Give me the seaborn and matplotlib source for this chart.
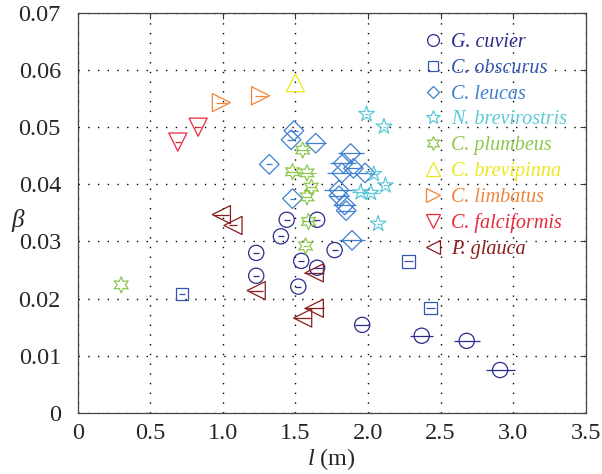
import numpy as np
import pandas as pd
import matplotlib
matplotlib.use("Agg")
import matplotlib.pyplot as plt
from matplotlib.lines import Line2D
import seaborn as sns

species = ["G. cuvier", "C. obscurus", "C. leucas", "N. brevirostris", "C. plumbeus",
           "C. brevipinna", "C. limbatus", "C. falciformis", "P. glauca"]
colors = ["#2b2b8c", "#3556b0", "#3f7fd0", "#5cc8d8", "#8cc84b",
          "#ece81a", "#f0843a", "#e8283c", "#8a1c1c"]
markers = ["o", "s", "D", "*", (6, 1, 0), "^", ">", "v", "<"]

# length l (m), beta, half-width of horizontal error bar
cuvier_l = [1.23, 1.23, 1.40, 1.44, 1.65, 1.54, 1.65, 1.52, 1.77, 1.96, 2.37, 2.68, 2.91]
cuvier_b = [0.0280, 0.0240, 0.0309, 0.0338, 0.0338, 0.0266, 0.0254, 0.0221, 0.0285, 0.0154, 0.0135, 0.0126, 0.0075]
cuvier_e = [0.02, 0.02, 0.02, 0.02, 0.02, 0.02, 0.03, 0.02, 0.02, 0.05, 0.08, 0.09, 0.10]

obscurus_l = [0.72, 2.28, 2.43]
obscurus_b = [0.0208, 0.0265, 0.0184]
obscurus_e = [0.02, 0.03, 0.03]

leucas_l = [1.49, 1.47, 1.64, 1.32, 1.48, 1.88, 1.83, 1.90, 1.82, 1.98, 1.80, 1.80, 1.84, 1.85, 1.89]
leucas_b = [0.0494, 0.0478, 0.0472, 0.0435, 0.0375, 0.0454, 0.0437, 0.0428, 0.0420, 0.0420,
            0.0390, 0.0380, 0.0364, 0.0354, 0.0302]
leucas_e = [0.03, 0.03, 0.07, 0.02, 0.02, 0.09, 0.09, 0.05, 0.10, 0.05, 0.10, 0.07, 0.08, 0.06, 0.09]

brevirostris_l = [1.99, 2.11, 2.04, 2.12, 1.95, 2.02, 2.07]
brevirostris_b = [0.0523, 0.0501, 0.0418, 0.0398, 0.0386, 0.0385, 0.0331]
brevirostris_e = [0.01, 0.01, 0.03, 0.02, 0.06, 0.06, 0.01]

plumbeus_l = [1.55, 1.48, 1.58, 1.61, 1.58, 1.59, 1.57, 0.30]
plumbeus_b = [0.0460, 0.0422, 0.0420, 0.0395, 0.0378, 0.0335, 0.0292, 0.0224]
plumbeus_e = [0.05, 0.05, 0.06, 0.03, 0.03, 0.05, 0.02, 0.0]

brevipinna_l = [1.50]
brevipinna_b = [0.0578]
brevipinna_e = [0.0]

limbatus_l = [0.99, 1.26]
limbatus_b = [0.0543, 0.0555]
limbatus_e = [0.04, 0.04]

falciformis_l = [0.69, 0.83]
falciformis_b = [0.0474, 0.0500]
falciformis_e = [0.02, 0.02]

glauca_l = [0.99, 1.07, 1.23, 1.63, 1.63, 1.55]
glauca_b = [0.0347, 0.0328, 0.0214, 0.0245, 0.0183, 0.0166]
glauca_e = [0.05, 0.03, 0.05, 0.07, 0.07, 0.06]

all_l = [cuvier_l, obscurus_l, leucas_l, brevirostris_l, plumbeus_l, brevipinna_l, limbatus_l, falciformis_l, glauca_l]
all_b = [cuvier_b, obscurus_b, leucas_b, brevirostris_b, plumbeus_b, brevipinna_b, limbatus_b, falciformis_b, glauca_b]
all_e = [cuvier_e, obscurus_e, leucas_e, brevirostris_e, plumbeus_e, brevipinna_e, limbatus_e, falciformis_e, glauca_e]

xticks = [0, 0.5, 1.0, 1.5, 2.0, 2.5, 3.0, 3.5]
xticklabels = ["0", "0.5", "1.0", "1.5", "2.0", "2.5", "3.0", "3.5"]
yticks = [0, 0.01, 0.02, 0.03, 0.04, 0.05, 0.06, 0.07]
yticklabels = ["0", "0.01", "0.02", "0.03", "0.04", "0.05", "0.06", "0.07"]

sns.set_style("white")
plt.rcParams["font.family"] = ["Liberation Serif", "DejaVu Serif"]
plt.rcParams["mathtext.fontset"] = "custom"
plt.rcParams["mathtext.rm"] = "Liberation Serif"
plt.rcParams["mathtext.it"] = "Liberation Serif:italic"

scatter_size = {"o": 120, "s": 80, "D": 100, "*": 140, "hex": 135, "^": 170, ">": 170, "v": 170, "<": 170}
legend_size = {"o": 8.5, "s": 7.5, "D": 6.5, "*": 10.5, "hex": 10, "^": 10, ">": 10, "v": 10, "<": 10}

def key(m):
    return "hex" if isinstance(m, tuple) else m

fig = plt.figure(figsize=(6.02, 4.74), dpi=100)
ax = fig.add_axes([0.129, 0.129, 0.844, 0.8437])

for sp, c, m, L, B, E in zip(species, colors, markers, all_l, all_b, all_e):
    df = pd.DataFrame({"l": L, "beta": B, "err": E})
    ax.errorbar(df["l"], df["beta"], xerr=df["err"], fmt="none", ecolor=c,
                elinewidth=0.9, capsize=0, zorder=2)
    sns.scatterplot(data=df, x="l", y="beta", marker=m, s=scatter_size[key(m)], facecolor="none",
                    edgecolor=c, linewidth=0.9, ax=ax, legend=False, zorder=3)

ax.set_xlim(0, 3.5)
ax.set_ylim(0, 0.07)
ax.set_xticks(xticks)
ax.set_xticklabels(xticklabels)
ax.set_yticks(yticks)
ax.set_yticklabels(yticklabels)
ax.tick_params(direction="in", top=True, right=True, labelsize=17.5, length=4,
               width=0.8, color="#333333")
ax.tick_params(axis="x", pad=7)
ax.tick_params(axis="y", pad=12)
for sp_ in ax.spines.values():
    sp_.set_color("#444444")
    sp_.set_linewidth(0.9)
ax.grid(True, color="black", linestyle=(0, (1, 6)), linewidth=1.0)
ax.set_axisbelow(True)

ax.set_xlabel(r"$l$ (m)", fontsize=17.5, labelpad=2)
ax.set_ylabel("β", fontsize=18, style="italic", rotation=0, va="center", ha="center")
ax.yaxis.set_label_coords(-0.118, 0.48)

handles = []
for sp, c, m in zip(species, colors, markers):
    handles.append(Line2D([], [], linestyle="none", marker=m, markersize=legend_size[key(m)],
                          markerfacecolor="none", markeredgecolor=c, markeredgewidth=0.9))
leg = ax.legend(handles, species, loc="upper left", bbox_to_anchor=(0.655, 0.985),
                frameon=False, prop={"size": 14.5, "style": "italic"},
                handlelength=0.8, handletextpad=0.5, labelspacing=0.33, borderpad=0.2)
for t, c in zip(leg.get_texts(), colors):
    t.set_color(c)

fig.savefig("out.png", dpi=100)
